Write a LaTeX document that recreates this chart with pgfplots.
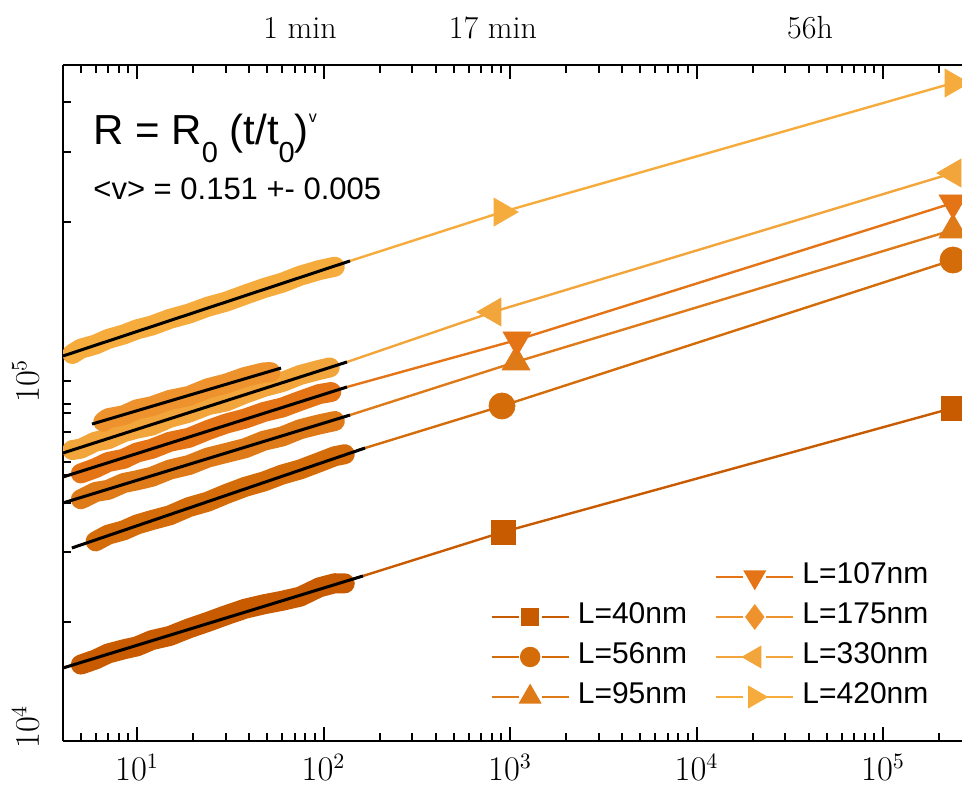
\documentclass[border=0pt]{standalone}
\usepackage{pgfplots}
\pgfplotsset{compat=1.18}
\usepackage{fontspec}
\newfontfamily\arial{Liberation Sans}
\definecolor{c40}{HTML}{C85A00}
\definecolor{c56}{HTML}{D56C0A}
\definecolor{c95}{HTML}{DE7A18}
\definecolor{c107}{HTML}{E47416}
\definecolor{c175}{HTML}{EE922D}
\definecolor{c330}{HTML}{F2A53A}
\definecolor{c420}{HTML}{F6AC3C}
\begin{document}
\begin{tikzpicture}
\begin{axis}[
  name=ax, at={(0,0)}, anchor=south west, scale only axis,
  width=449.5pt, height=338pt,
  xmode=log, ymode=log,
  xmin=4.0105, xmax=265240, ymin=9111, ymax=819100,
  axis x line*=box, axis y line*=left,
  axis line style={line width=1.2pt, black},
  xtick={10,100,1000,10000,100000},
  minor xtick={5,6,7,8,9,20,30,40,50,60,70,80,90,200,300,400,500,600,700,800,900,2000,3000,4000,5000,6000,7000,8000,9000,20000,30000,40000,50000,60000,70000,80000,90000,200000},
  ytick={10000,100000},
  minor ytick={20110,32050,44410,53480,58330,61930,71200,80820,85800,100000,115800,122100,288100,459000,640300},
  every major y tick/.append style={draw=none},
  major tick length=7pt, minor tick length=4pt,
  tick style={line width=1pt, black},
  tick label style={font=\fontsize{16}{18}\selectfont},
  xticklabel style={yshift=-3pt},
  yticklabel style={xshift=-8.5pt, rotate=90, anchor=south},
  clip=true, clip marker paths=true,
  legend columns=2,
  legend cell align=left,
  legend image code/.code={
    \draw (0pt,0pt)--(13.5pt,0pt);
    \draw (25pt,0pt)--(38.5pt,0pt);
    \draw plot coordinates {(19.25pt,0pt)};},
  legend style={at={(0.475,0.2654)}, anchor=north west, draw=none, fill=none,
    font=\arial\fontsize{15}{17}\selectfont, inner sep=0pt, row sep=5pt,
    nodes={inner sep=0pt, text height=11pt, text depth=4pt},
    /tikz/every odd column/.append style={column sep=4pt},
    /tikz/every even column/.append style={column sep=14pt}},
]
% extrapolated fit lines
\addplot[c40, line width=1.2pt, forget plot] coordinates {(4.0105,14810) (162.8,27320) (917,36610) (237300,83570)};
\addplot[c56, line width=1.2pt, forget plot] coordinates {(4.48,32920) (167,64020) (906,84690) (237300,223700)};
\addplot[c95, line width=1.2pt, forget plot] coordinates {(4.0105,44410) (138.7,79740) (1077,113500) (237300,273200)};
\addplot[c107, line width=1.2pt, forget plot] coordinates {(4.0105,52790) (133.6,96080) (1090,131400) (237300,327000)};
\addplot[c330, line width=1.2pt, forget plot] coordinates {(4.0105,61930) (133.6,113470) (810.6,158300) (237300,399100)};
\addplot[c420, line width=1.2pt, forget plot] coordinates {(4.0105,118100) (138.7,222300) (906,307800) (237300,726500)};
% measured data (dense ribbons)
\addplot[c40, line width=10pt, line join=round, line cap=round, forget plot] coordinates {(5,15150) (6,15680) (7,16310) (8.5,16770) (10,17100) (12,17830) (15,18330) (19,19280) (24,20130) (30,21040) (38,21970) (48,22630) (60,23160) (75,23810) (95,25330) (115,26030) (130,26010)};
\addplot[c56, line width=10pt, line join=round, line cap=round, forget plot] coordinates {(6,34400) (7,35970) (8.5,37020) (10,38490) (12,39630) (15,40910) (19,43220) (24,44810) (30,47120) (38,49440) (48,51260) (60,53650) (75,55510) (95,58250) (115,60620) (130,61430)};
\addplot[c107, line width=10pt, line join=round, line cap=round, forget plot] coordinates {(5,54060) (6,56030) (7,58320) (8.5,59590) (10,62130) (12,63650) (15,66740) (19,68530) (24,72140) (30,75300) (38,77860) (48,81400) (60,83790) (75,87640) (95,91690) (110,92920)};
\addplot[c95, line width=10pt, line join=round, line cap=round, forget plot] coordinates {(5,45520) (6,47790) (7,48460) (8.5,50730) (10,51640) (12,52860) (15,55470) (19,57160) (24,60090) (30,61930) (38,63940) (48,67240) (60,69120) (75,72560) (95,74920) (115,76610)};
\addplot[c330, line width=10pt, line join=round, line cap=round, forget plot] coordinates {(4.5,63170) (5,63740) (6,66850) (7,67870) (8.5,71160) (10,72850) (12,74320) (15,78310) (19,81020) (24,85130) (30,87260) (38,91960) (48,96180) (60,99270) (75,104100) (95,107700) (108,109400)};
\addplot[c175, line width=10pt, line join=round, line cap=round, forget plot] coordinates {(6.6,76280) (7,78070) (8.5,79620) (10,82830) (12,84510) (15,88190) (19,90530) (24,95280) (30,98270) (38,102750) (48,105900) (52,106100)};
\addplot[c420, line width=10pt, line join=round, line cap=round, forget plot] coordinates {(4.5,119700) (5,124000) (6,127500) (7,132300) (8.5,136300) (10,141000) (12,144600) (15,151200) (19,156600) (24,164000) (30,169500) (38,177600) (48,185600) (60,192300) (75,201500) (95,209200) (115,213900)};
% black fits
\addplot[black, line width=1.5pt, forget plot] coordinates {(4.0105,14810) (162.8,27320)};
\addplot[black, line width=1.5pt, forget plot] coordinates {(4.48,32920) (167,64020)};
\addplot[black, line width=1.5pt, forget plot] coordinates {(4.0105,44410) (138.7,79740)};
\addplot[black, line width=1.5pt, forget plot] coordinates {(4.0105,52790) (133.6,96080)};
\addplot[black, line width=1.5pt, forget plot] coordinates {(4.0105,61930) (133.6,113470)};
\addplot[black, line width=1.5pt, forget plot] coordinates {(5.74,75100) (59.17,109000)};
\addplot[black, line width=1.5pt, forget plot] coordinates {(4.0105,118100) (138.7,222300)};
% markers
\addplot[c40, only marks, mark=square*, mark size=6pt, forget plot] coordinates {(917,36610) (237300,83570)};
\addplot[c56, only marks, mark=*, mark size=6.5pt, forget plot] coordinates {(906,84690) (237300,223700)};
\addplot[c95, only marks, mark=triangle*, mark size=8pt, forget plot] coordinates {(1077,113500) (237300,273200)};
\addplot[c107, only marks, mark=triangle*, mark size=8pt, mark options={rotate=180}, forget plot] coordinates {(1090,131400) (237300,327000)};
\addplot[c330, only marks, mark=triangle*, mark size=8pt, mark options={rotate=90}, forget plot] coordinates {(810.6,158300) (237300,399100)};
\addplot[c420, only marks, mark=triangle*, mark size=8pt, mark options={rotate=-90}, forget plot] coordinates {(906,307800) (237300,726500)};
% legend
\addlegendimage{empty legend}\addlegendentry{}
\addlegendimage{c107, line width=1.2pt, mark=triangle*, mark size=5.5pt, mark options={rotate=180}}\addlegendentry{L=107nm}
\addlegendimage{c40, line width=1.2pt, mark=square*, mark size=4pt}\addlegendentry{L=40nm}
\addlegendimage{c175, line width=1.2pt, mark=diamond*, mark size=5.5pt}\addlegendentry{L=175nm}
\addlegendimage{c56, line width=1.2pt, mark=*, mark size=4.5pt}\addlegendentry{L=56nm}
\addlegendimage{c330, line width=1.2pt, mark=triangle*, mark size=5.5pt, mark options={rotate=90}}\addlegendentry{L=330nm}
\addlegendimage{c95, line width=1.2pt, mark=triangle*, mark size=5.5pt}\addlegendentry{L=95nm}
\addlegendimage{c420, line width=1.2pt, mark=triangle*, mark size=5.5pt, mark options={rotate=-90}}\addlegendentry{L=420nm}
\end{axis}
\node[anchor=base west, font=\arial\fontsize{21}{24}\selectfont, inner sep=0pt] at (15pt,298pt)
  {R = R\raisebox{-9pt}{\fontsize{14.5}{15}\selectfont 0} (t/t\raisebox{-9pt}{\fontsize{14.5}{15}\selectfont 0})\raisebox{11pt}{\fontsize{8}{8}\selectfont v}};
\node[anchor=base west, font=\arial\fontsize{15.5}{18}\selectfont, inner sep=0pt] at (15pt,270.5pt) {<v> = 0.151 +- 0.005};
\node[anchor=base, font=\fontsize{16}{18}\selectfont, inner sep=0pt] at (118.5pt,351pt) {1 min};
\node[anchor=base, font=\fontsize{16}{18}\selectfont, inner sep=0pt] at (215pt,351pt) {17 min};
\node[anchor=base, font=\fontsize{16}{18}\selectfont, inner sep=0pt] at (373.5pt,351pt) {56h};
\pgfresetboundingbox
\path[use as bounding box] (-31.5pt,-23pt) rectangle (449.5pt,370.5pt);
\end{tikzpicture}
\end{document}
